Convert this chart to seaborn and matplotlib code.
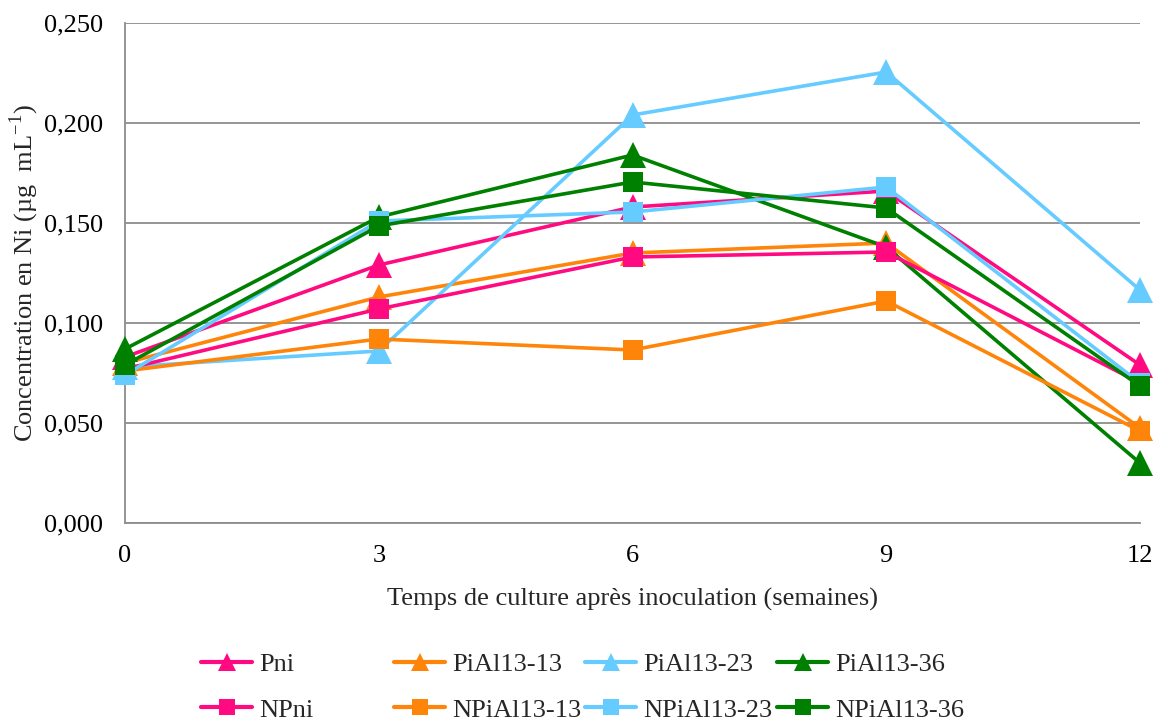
import matplotlib
matplotlib.use("Agg")
import matplotlib.pyplot as plt
from matplotlib.ticker import FuncFormatter, FixedLocator
from matplotlib.lines import Line2D
import seaborn as sns
import pandas as pd

# Sampling times (weeks after inoculation)
weeks = [0, 3, 6, 9, 12]

# Ni concentration (µg mL-1) per treatment
pni = [0.083, 0.129, 0.158, 0.166, 0.079]
pial13_13 = [0.080, 0.113, 0.135, 0.140, 0.0475]
pial13_23 = [0.078, 0.086, 0.204, 0.2255, 0.1165]
pial13_36 = [0.087, 0.153, 0.184, 0.138, 0.030]
npni = [0.077, 0.107, 0.133, 0.1355, 0.070]
npial13_13 = [0.076, 0.092, 0.0865, 0.111, 0.046]
npial13_23 = [0.074, 0.151, 0.1555, 0.168, 0.070]
npial13_36 = [0.079, 0.1485, 0.1705, 0.1575, 0.0685]

series_names = ["Pni", "PiAl13-13", "PiAl13-23", "PiAl13-36",
                "NPni", "NPiAl13-13", "NPiAl13-23", "NPiAl13-36"]
series_values = [pni, pial13_13, pial13_23, pial13_36,
                 npni, npial13_13, npial13_23, npial13_36]

y_ticks = [0.0, 0.05, 0.10, 0.15, 0.20, 0.25]

rows = []
for name, vals in zip(series_names, series_values):
    for w, v in zip(weeks, vals):
        rows.append({"week": w, "value": v, "series": name})
df = pd.DataFrame(rows)

pink, orange, lblue, green = "#FF0A80", "#FF850A", "#66CCFF", "#008000"
palette = {"Pni": pink, "NPni": pink,
           "PiAl13-13": orange, "NPiAl13-13": orange,
           "PiAl13-23": lblue, "NPiAl13-23": lblue,
           "PiAl13-36": green, "NPiAl13-36": green}
markers = {n: ("s" if n.startswith("N") else "^") for n in series_names}
marker_size = {"^": 19, "s": 15}

sns.set_theme(style="white")
plt.rcParams["font.family"] = ["Liberation Serif", "DejaVu Serif"]
plt.rcParams["mathtext.fontset"] = "custom"
plt.rcParams["mathtext.rm"] = "Liberation Serif"

FS = 19
W, H = 1161, 720
fig = plt.figure(figsize=(W / 100, H / 100), dpi=100)
ax = fig.add_axes([125 / W, 1 - 523 / H, (1140 - 125) / W, 500 / H])

sns.lineplot(data=df, x="week", y="value", hue="series", style="series",
             hue_order=series_names, style_order=series_names,
             palette=palette, markers=markers, dashes=False,
             markersize=15, linewidth=2.6, markeredgewidth=0,
             legend=False, ax=ax, zorder=3)
for ln in ax.lines:
    ln.set_markersize(marker_size[ln.get_marker()])
    ln.set_clip_on(False)
    ln.set_solid_joinstyle("round")

ax.set_xlim(0, 12)
ax.set_ylim(0, 0.25)
ax.xaxis.set_major_locator(FixedLocator(weeks))
ax.yaxis.set_major_locator(FixedLocator(y_ticks))
ax.yaxis.set_major_formatter(FuncFormatter(lambda v, p: f"{v:.3f}".replace(".", ",")))
ax.grid(axis="y", color="#8c8c8c", linewidth=1.3)
ax.grid(axis="x", visible=False)
for s in ["top", "right"]:
    ax.spines[s].set_visible(False)
for s in ["left", "bottom"]:
    ax.spines[s].set_color("#8c8c8c")
    ax.spines[s].set_linewidth(1.3)
ax.tick_params(axis="both", which="major", length=7, width=1.2, color="#8c8c8c",
               labelsize=FS, labelcolor="black", direction="out")
ax.tick_params(axis="x", pad=9)
ax.tick_params(axis="y", pad=9)

ax.set_xlabel("Temps de culture après inoculation (semaines)", fontsize=FS, labelpad=15)
ax.set_ylabel("Concentration en Ni (µg  mL$^{\\mathregular{-1}}$)", fontsize=FS, labelpad=2)

# Legend: one block per colour, triangle (P) above square (NP)
col_left = [201, 394, 585, 777]
for i, x0 in enumerate(col_left):
    handles, labels = [], []
    for name in (series_names[i], series_names[i + 4]):
        handles.append(Line2D([], [], color=palette[name], marker=markers[name],
                              markersize=13 if markers[name] == "^" else 12,
                              linewidth=3, markeredgewidth=0))
        labels.append(name)
    fig.legend(handles, labels, loc="center left",
               bbox_to_anchor=(x0 / W, 1 - 687 / H), frameon=False, fontsize=FS,
               handlelength=1.95, handletextpad=0.25, labelspacing=0.85,
               borderpad=0, borderaxespad=0)

fig.savefig("out.png", dpi=100)
